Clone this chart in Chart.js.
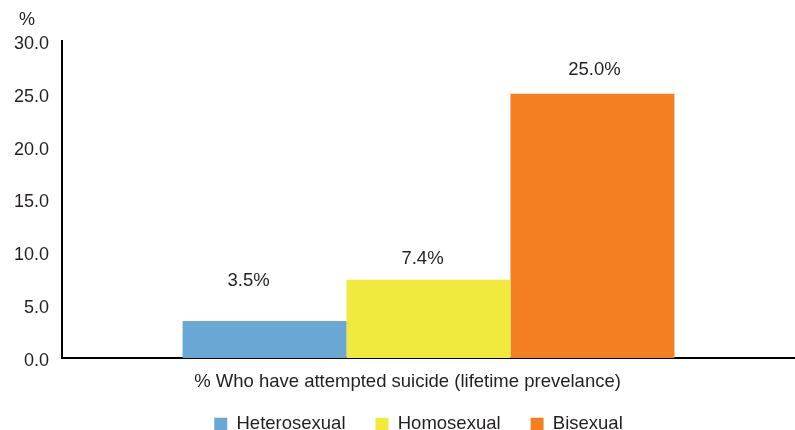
<!DOCTYPE html>
<html>
<head>
<meta charset="utf-8">
<script src="https://cdn.jsdelivr.net/npm/chart.js@4"></script>
<style>
html,body{margin:0;padding:0;background:#fff;}
#wrap{width:795px;height:430px;position:relative;}
</style>
</head>
<body>
<div id="wrap"><canvas id="c" width="795" height="430"></canvas></div>
<script>
const categories = ['% Who have attempted suicide (lifetime prevelance)'];
const seriesNames = ['Heterosexual', 'Homosexual', 'Bisexual'];
const heterosexual = [3.5];
const homosexual = [7.4];
const bisexual = [25.0];
const yAxisUnit = '%';

const seriesColors = ['#69a7d5', '#f0ea3e', '#f47e22'];
const FONT = '"Liberation Sans", Arial, sans-serif';
const TEXT = '#231f20';

const labelPlugin = {
  id: 'barLabels',
  afterLayout(chart, args, opts) {
    const lg = chart.legend;
    if (!lg) return;
    lg.top = opts.legendTop;
    lg.bottom = chart.height;
    lg.height = lg.bottom - lg.top;
    lg.left += opts.legendShiftX; lg.right += opts.legendShiftX;
  },
  afterDatasetsDraw(chart, args, opts) {
    const ctx = chart.ctx;
    ctx.save();
    ctx.font = '18.5px ' + FONT;
    ctx.fillStyle = TEXT;
    ctx.textAlign = 'center';
    ctx.textBaseline = 'middle';
    chart.data.datasets.forEach((ds, i) => {
      const meta = chart.getDatasetMeta(i);
      meta.data.forEach((bar, j) => {
        const off = opts.offsets[i] || {dx: 0, dy: 20};
        ctx.fillText(ds.data[j].toFixed(1) + '%', bar.x + off.dx, bar.y - off.dy);
      });
    });
    ctx.font = '18px ' + FONT;
    ctx.fillText(yAxisUnit, opts.unitX, opts.unitY);
    ctx.restore();
  }
};

new Chart(document.getElementById('c'), {
  type: 'bar',
  data: {
    labels: categories,
    datasets: [
      {label: seriesNames[0], data: heterosexual, backgroundColor: seriesColors[0]},
      {label: seriesNames[1], data: homosexual, backgroundColor: seriesColors[1]},
      {label: seriesNames[2], data: bisexual, backgroundColor: seriesColors[2]}
    ]
  },
  options: {
    responsive: false,
    animation: false,
    devicePixelRatio: 1,
    layout: {padding: {top: 41, left: 0, right: 0, bottom: 0}},
    datasets: {bar: {categoryPercentage: 0.671, barPercentage: 1.0, borderWidth: 0}},
    plugins: {
      tooltip: {enabled: false},
      title: {display: false},
      legend: {
        position: 'bottom',
        maxHeight: 36,
        labels: {
          font: {family: FONT, size: 18.5},
          color: TEXT,
          boxWidth: 13,
          boxHeight: 13,
          padding: 30
        }
      },
      barLabels: {
        offsets: [{dx: -16, dy: 40}, {dx: -6, dy: 21}, {dx: 2, dy: 24}],
        unitX: 27, unitY: 20,
        legendTop: 385, legendShiftX: 21
      }
    },
    scales: {
      x: {
        grid: {display: false, drawTicks: false},
        border: {color: '#000', width: 2},
        ticks: {font: {family: FONT, size: 18.5}, color: TEXT, padding: 13, labelOffset: -21},
        afterFit: s => { s.height = 36; }
      },
      y: {
        min: 0, max: 30,
        grid: {display: false, drawTicks: false},
        border: {color: '#000', width: 2},
        ticks: {
          stepSize: 5,
          font: {family: FONT, size: 18},
          color: TEXT,
          padding: 13,
          labelOffset: 3,
          callback: v => Number(v).toFixed(1)
        },
        afterFit: s => { s.width = 62; }
      }
    }
  },
  plugins: [labelPlugin]
});
</script>
</body>
</html>
